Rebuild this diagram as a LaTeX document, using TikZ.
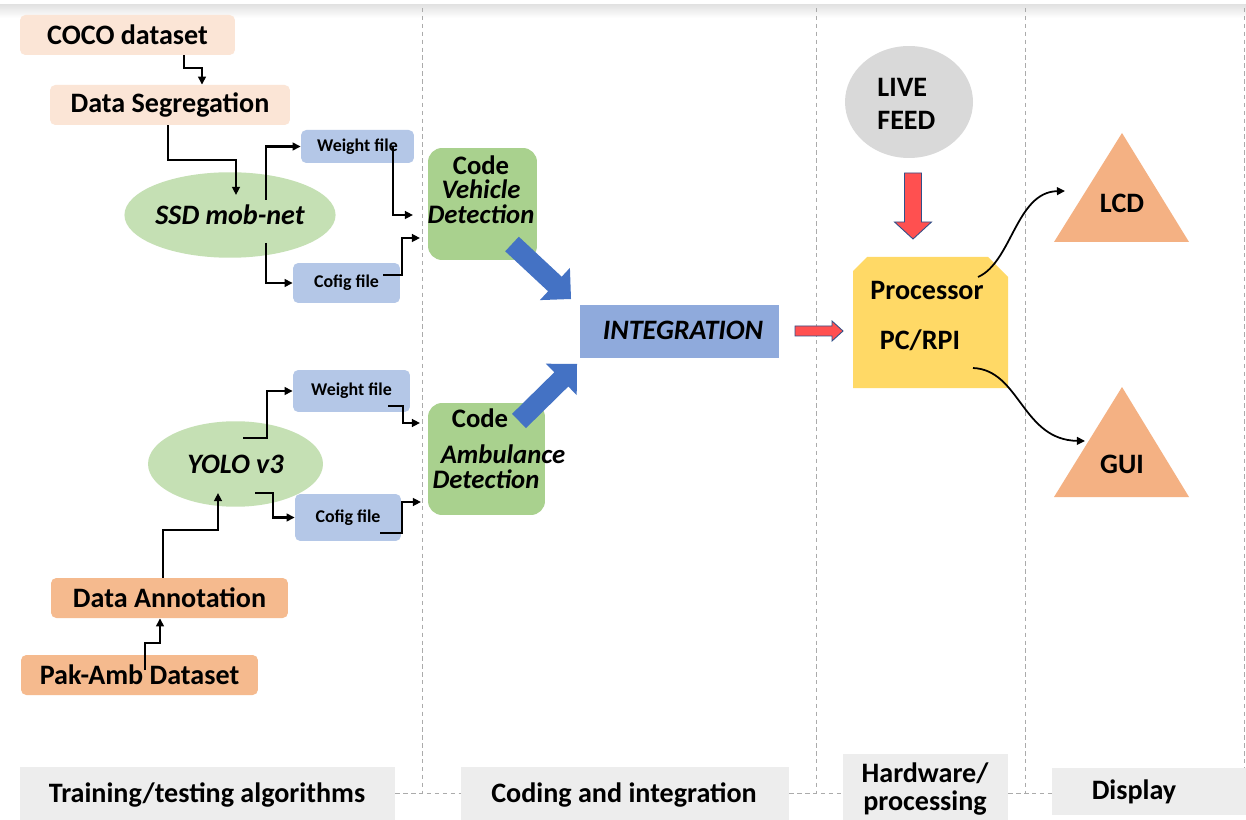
\documentclass[tikz,border=0pt]{standalone}
\usepackage{fontspec}
\setmainfont{Carlito}
\usetikzlibrary{arrows.meta,shapes.geometric}
\definecolor{peachL}{HTML}{FBE5D6}
\definecolor{peachD}{HTML}{F5BA8E}
\definecolor{tri}{HTML}{F4B183}
\definecolor{ellg}{HTML}{C5E0B4}
\definecolor{codeg}{HTML}{A9D18E}
\definecolor{fileb}{HTML}{B4C7E7}
\definecolor{integ}{HTML}{8FAADC}
\definecolor{barrow}{HTML}{4472C4}
\definecolor{rarrow}{HTML}{FF5050}
\definecolor{procy}{HTML}{FFD966}
\definecolor{livegr}{HTML}{D9D9D9}
\definecolor{labgr}{HTML}{EDEDED}
\definecolor{dashgr}{HTML}{ABABAB}
\begin{document}
\begin{tikzpicture}[x=0.02cm,y=-0.02cm,
  big/.style={font=\fontsize{16}{17}\selectfont\bfseries},
  bigit/.style={font=\fontsize{16}{17}\selectfont\bfseries\itshape},
  codetxt/.style={font=\fontsize{15.2}{14}\selectfont\bfseries, inner sep=0pt},
  peachbox/.style={fill=peachL, rounded corners=3pt, inner sep=0pt, minimum height=0.8cm, big},
  peachdbox/.style={fill=peachD, rounded corners=3pt, inner sep=0pt, minimum height=0.8cm, big},
  filebox/.style={fill=fileb, rounded corners=3pt, inner sep=0pt, font=\fontsize{10.2}{12}\selectfont\bfseries},
  algo/.style={ellipse, fill=ellg, inner sep=0pt, minimum width=3.5cm, minimum height=1.71cm, bigit},
  codebox/.style={fill=codeg, rounded corners=8pt, inner sep=0pt, minimum height=2.24cm},
  labbox/.style={fill=labgr, inner sep=0pt},
  labtxt/.style={font=\fontsize{16}{16}\selectfont\bfseries, inner sep=0pt, align=center},
  conn/.style={line width=1.15pt, -{Triangle[length=4.6pt,width=4.4pt]}},
  curv/.style={line width=1pt, -{Triangle[length=4.6pt,width=4.4pt]}},
  sep/.style={draw=dashgr, line width=0.55pt, dash pattern=on 2.5pt off 2pt}
]
\useasboundingbox (0,0) rectangle (1246,820);
\fill[white] (0,0) rectangle (1246,820);
\shade[top color=gray!22, bottom color=white] (0,5) rectangle (1246,18);

% bottom labels
\node[labbox, minimum width=7.5cm, minimum height=1.06cm] (lab1) at (207.5,793.5) {};
\node[labtxt] (lab1t) at (207,795) {Training/testing algorithms};
\node[labbox, minimum width=6.56cm, minimum height=1.06cm] (lab2) at (625,793.5) {};
\node[labtxt] (lab2t) at (624,795) {Coding and integration};
\node[labbox, minimum width=3.3cm, minimum height=1.32cm] (lab3) at (925.5,787) {};
\node[labtxt] (lab3t) at (925,789) {Hardware/\\processing};
\node[labbox, minimum width=3.88cm, minimum height=0.94cm] (lab4) at (1149,791.5) {};
\node[labtxt] (lab4t) at (1134,792) {Display};

% dashed separators
\coordinate (t1) at (422,8);
\coordinate (t2) at (816,8);
\coordinate (t3) at (1025,8);
\coordinate (t4) at (1244,8);
\draw[sep] (t1) -- (t1 |- lab1.east);
\draw[sep] (lab1.east) -- (lab2.west);
\draw[sep] (t2) -- (t2 |- lab2.east);
\draw[sep] (lab2.east) -- (lab2.east -| lab3.west);
\draw[sep] (t3) -- (t3 |- lab2.east);
\draw[sep] (lab2.east -| lab3.east) -- (lab2.east -| lab4.west);
\draw[sep] (t4) -- (t4 |- lab4.north);

% left column
\node[peachbox, minimum width=4.3cm] (coco) at (127.5,35) {COCO dataset};
\node[peachbox, minimum width=4.8cm] (seg) at (170,105) {Data Segregation};
\node[algo] (ssd) at (230,215) {SSD mob-net};
\node[filebox, minimum width=2.26cm, minimum height=0.66cm] (w1) at (357.5,146.5) {Weight file};
\node[filebox, minimum width=2.14cm, minimum height=0.8cm] (c1) at (346.5,283) {Cofig file};

\node[algo] (yolo) at (235.5,464) {YOLO v3};
\node[filebox, minimum width=2.34cm, minimum height=0.84cm] (w2) at (351.5,391) {Weight file};
\node[filebox, minimum width=2.12cm, minimum height=0.94cm] (c2) at (348,517.5) {Cofig file};
\node[peachdbox, minimum width=4.74cm] (ann) at (169.5,598) {Data Annotation};
\node[peachdbox, minimum width=4.74cm] (pak) at (139.5,675) {Pak-Amb Dataset};

% code boxes
\node[codebox, minimum width=2.18cm] (code1) at (482.5,204) {};
\node[codetxt, align=center, anchor=north] (code1t) at (481,155) {Code\\\itshape Vehicle\\\itshape Detection};
\node[codebox, minimum width=2.34cm] (code2) at (486.5,459) {};
\node[codetxt, anchor=base] (code2a) at (480,427) {Code};
\node[codetxt, anchor=base] (code2b) at (503,463) {\itshape Ambulance};
\node[codetxt, anchor=base] (code2c) at (486,488) {\itshape Detection};

% integration
\node[fill=integ, inner sep=0pt, minimum width=3.98cm, minimum height=1.06cm] (integ) at (679.5,331.5) {};
\node[bigit, inner sep=0pt, anchor=base] (integt) at (683,340) {INTEGRATION};

% blue block arrows
\fill[barrow] (505.2,251.3) -- (548.1,291.3) -- (539.9,300.1) -- (571,299) -- (569.9,267.9) -- (561.7,276.7) -- (518.8,236.7) -- cycle;
\fill[barrow] (526.0,428.1) -- (568.3,386.5) -- (576.7,395.1) -- (577,364) -- (545.9,363.7) -- (554.3,372.3) -- (512.0,413.9) -- cycle;

% hardware
\node[ellipse, fill=livegr, inner sep=0pt, minimum width=2.56cm, minimum height=2.24cm] (live) at (909,102) {};
\node[big, inner sep=0pt, anchor=base west] (livea) at (877,97) {LIVE};
\node[big, inner sep=0pt, anchor=base west] (liveb) at (877,130) {FEED};
\filldraw[fill=rarrow, draw=barrow!70!black, line width=0.5pt] (904.5,173) -- (921.5,173) -- (921.5,222) -- (931.5,222) -- (913,239) -- (894.5,222) -- (904.5,222) -- cycle;
\filldraw[fill=rarrow, draw=barrow!70!black, line width=0.5pt] (795,326) -- (832,326) -- (832,321) -- (843,331) -- (832,341) -- (832,336) -- (795,336) -- cycle;
\fill[procy] (867,257) -- (988,257) -- (1008,277) -- (1008,388) -- (853,388) -- (853,271) -- cycle;
\node[big, inner sep=0pt, anchor=base] (proca) at (927,300) {Processor};
\node[big, inner sep=0pt, anchor=base] (procb) at (920,350) {PC/RPI};

% display
\fill[tri] (1122,133) -- (1189,242) -- (1054,242) -- cycle;
\node[big, inner sep=0pt, anchor=base] (lcd) at (1122,213) {LCD};
\fill[tri] (1122,387) -- (1189,497) -- (1054,497) -- cycle;
\node[big, inner sep=0pt, anchor=base] (gui) at (1122,473) {GUI};

% connector end points
\coordinate (ssdin) at (236,195);
\coordinate (ssdw) at (266,200);
\coordinate (ssdc) at (266,243);
\coordinate (cv1) at (413,215);
\coordinate (c1o) at (383,275);
\coordinate (cv2) at (420,238);
\coordinate (yw) at (243,438);
\coordinate (yc) at (255,493);
\coordinate (w2o) at (388,406);
\coordinate (ca1) at (420,423);
\coordinate (c2o) at (380,533);
\coordinate (ca2) at (421,502);
\coordinate (yin) at (218,493);
\coordinate (pakin) at (145,670);
\coordinate (procL) at (978,277);
\coordinate (lcdin) at (1065,191);
\coordinate (procG) at (973,368);
\coordinate (guiin) at (1085,441);

% connectors
\draw[conn] (184,0 |- coco.south) |- (202,68) -- (202,0 |- seg.north);
\draw[conn] (168,0 |- seg.south) |- (236,160) -- (ssdin);
\draw[conn] (ssdw) |- (w1.west);
\draw[conn] (ssdc) |- (c1.west);
\draw[conn] (393,0 |- w1.center) |- (cv1);
\draw[conn] (c1o) -| (402,238) -- (cv2);
\draw[conn] (yw) -| (267,0 |- w2.west) -- (w2.west);
\draw[conn] (yc) -| (273,0 |- c2.west) -- (c2.west);
\draw[conn] (w2o) -| (403,423) -- (ca1);
\draw[conn] (c2o) -| (402,502) -- (ca2);
\draw[conn] (163,0 |- ann.north) |- (218,530) -- (yin);
\draw[conn] (pakin) |- (160,643) -- (160,0 |- ann.south);
\draw[curv] (procL) .. controls (1012,262) and (1016,192) .. (lcdin);
\draw[curv] (procG) .. controls (1020,370) and (1022,440) .. (guiin);
\end{tikzpicture}
\end{document}
